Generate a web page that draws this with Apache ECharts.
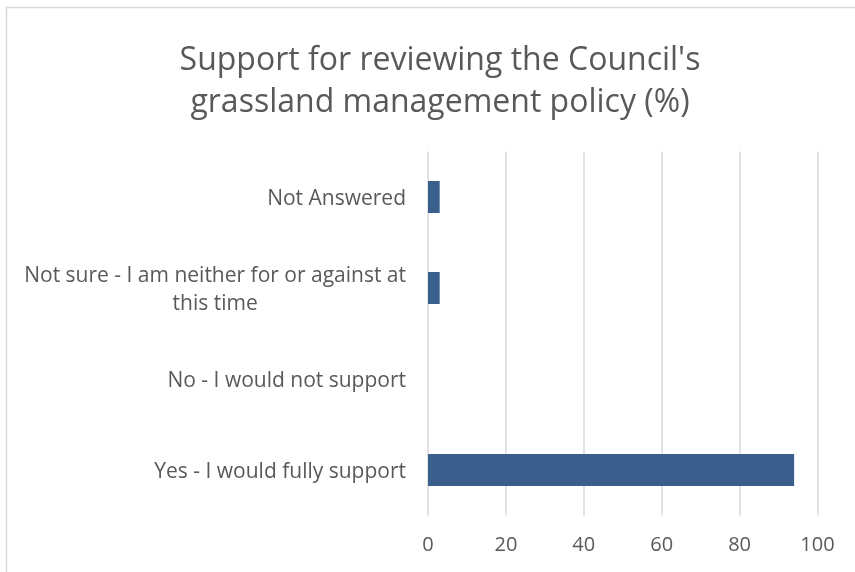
<!DOCTYPE html>
<html>
<head>
<meta charset="utf-8">
<script src="https://cdn.jsdelivr.net/npm/echarts@6/dist/echarts.min.js"></script>
<style>
  html, body { margin: 0; padding: 0; background: #fff; }
  #chart { width: 855px; height: 572px; }
</style>
</head>
<body>
<div id="chart"></div>
<script>
// Survey responses, listed bottom-to-top as drawn on the category axis
const categories = [
  'Yes - I would fully support',
  'No - I would not support',
  'Not sure - I am neither for or against at\nthis time',
  'Not Answered'
];
const percentages = [94, 0, 3, 3];
const xTicks = { min: 0, max: 100, interval: 20 };

const FONT = '"Open Sans", "Noto Sans", sans-serif';
const TEXT = '#595959';

const chart = echarts.init(document.getElementById('chart'), null, { renderer: 'canvas' });

chart.setOption({
  animation: false,
  backgroundColor: '#ffffff',
  title: {
    text: "Support for reviewing the Council's\ngrassland management policy (%)",
    left: 435,
    textAlign: 'center',
    top: 35,
    textStyle: {
      fontFamily: FONT,
      fontSize: 32,
      fontWeight: 'normal',
      color: TEXT,
      lineHeight: 42
    }
  },
  graphic: [{
    type: 'rect',
    shape: { x: 6.5, y: 7.5, width: 870, height: 600 },
    style: { fill: 'none', stroke: '#d9d9d9', lineWidth: 1.5 },
    silent: true
  }],
  grid: { left: 428, right: 37.5, top: 151.5, bottom: 56.5 },
  xAxis: {
    type: 'value',
    min: xTicks.min,
    max: xTicks.max,
    interval: xTicks.interval,
    axisLine: { show: false },
    axisTick: { show: false },
    axisLabel: {
      margin: 20,
      fontFamily: FONT,
      fontSize: 20,
      color: TEXT
    },
    splitLine: { show: true, lineStyle: { color: '#d9d9d9', width: 1.5 } }
  },
  yAxis: {
    type: 'category',
    data: categories,
    axisLine: { show: false },
    axisTick: { show: false },
    axisLabel: {
      margin: 22,
      fontFamily: FONT,
      fontSize: 21,
      color: TEXT,
      lineHeight: 28,
      padding: [4, 0, 0, 0],
      formatter: function (v) {
        return v.split('\n').map(function (s) { return '{c|' + s + '}'; }).join('\n');
      },
      rich: {
        c: { align: 'center', fontFamily: FONT, fontSize: 21, color: TEXT, lineHeight: 28 }
      }
    }
  },
  series: [{
    type: 'bar',
    data: percentages,
    barWidth: 32,
    itemStyle: { color: '#3a5f8c' }
  }]
});
</script>
</body>
</html>
